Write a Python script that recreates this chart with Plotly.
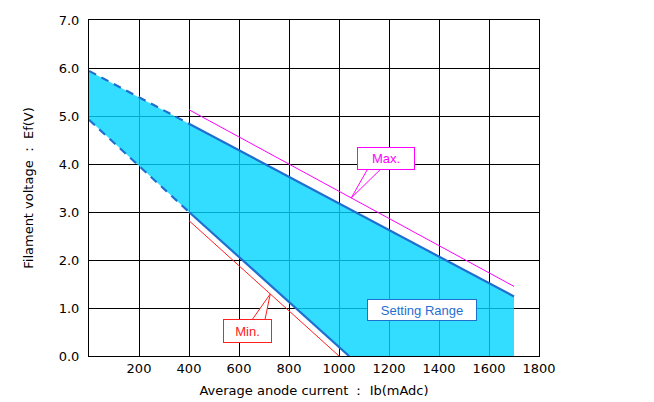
import plotly.graph_objects as go

# ---- data ----
range_x = [0, 400, 1700, 1700, 1040, 400, 0]
range_y = [5.94, 4.84, 1.24, 0.0, 0.0, 3.0, 4.92]

upper_dash_x = [0, 400]
upper_dash_y = [5.94, 4.84]
upper_solid_x = [400, 1700]
upper_solid_y = [4.84, 1.24]

lower_dash_x = [0, 400]
lower_dash_y = [4.92, 3.0]
lower_solid_x = [400, 1040]
lower_solid_y = [3.0, 0.0]

max_x = [400, 1700]
max_y = [5.13, 1.45]
min_x = [400, 1000]
min_y = [2.82, 0.0]

x_ticks = [200, 400, 600, 800, 1000, 1200, 1400, 1600, 1800]
y_ticks = [0, 1, 2, 3, 4, 5, 6, 7]

BLUE = "#1f6fd0"
MAG = "#ff00ff"
RED = "#ff2020"
FONT = "DejaVu Sans"
LFONT = "Liberation Sans"

fig = go.Figure()
fig.add_trace(go.Scatter(x=range_x, y=range_y, fill="toself", mode="lines",
                         line=dict(width=0), fillcolor="rgba(0,212,255,0.8)",
                         hoverinfo="skip"))
fig.add_trace(go.Scatter(x=upper_dash_x, y=upper_dash_y, mode="lines",
                         line=dict(color=BLUE, width=2.2, dash="8px,6px")))
fig.add_trace(go.Scatter(x=upper_solid_x, y=upper_solid_y, mode="lines",
                         line=dict(color=BLUE, width=2.2)))
fig.add_trace(go.Scatter(x=lower_dash_x, y=lower_dash_y, mode="lines",
                         line=dict(color=BLUE, width=2.2, dash="8px,6px")))
fig.add_trace(go.Scatter(x=lower_solid_x, y=lower_solid_y, mode="lines",
                         line=dict(color=BLUE, width=2.2)))
fig.add_trace(go.Scatter(x=max_x, y=max_y, mode="lines",
                         line=dict(color=MAG, width=1)))
fig.add_trace(go.Scatter(x=min_x, y=min_y, mode="lines",
                         line=dict(color=RED, width=1)))

def interp(xs, ys, x):
    return ys[0] + (ys[1] - ys[0]) * (x - xs[0]) / (xs[1] - xs[0])

# callout wedges
max_tip_x = 1049
max_tip_y = interp(max_x, max_y, max_tip_x)
min_tip_x = 725
min_tip_y = interp(min_x, min_y, min_tip_x)

shapes = [
    dict(type="path", xref="x", yref="y",
         path=f"M 1115 3.90 L {max_tip_x} {max_tip_y:.3f} L 1168 3.90 Z",
         fillcolor="white", line=dict(color=MAG, width=1), layer="above"),
    dict(type="path", xref="x", yref="y",
         path=f"M 653 0.76 L {min_tip_x} {min_tip_y:.3f} L 704 0.76 Z",
         fillcolor="white", line=dict(color=RED, width=1), layer="above"),
]

annotations = [
    dict(x=1188, y=4.11, xref="x", yref="y", text="Max.", showarrow=False,
         font=dict(family=LFONT, size=13, color=MAG), bgcolor="white",
         bordercolor=MAG, borderwidth=1, width=54, height=19, borderpad=1),
    dict(x=635, y=0.53, xref="x", yref="y", text="Min.", showarrow=False,
         font=dict(family=LFONT, size=13, color=RED), bgcolor="white",
         bordercolor=RED, borderwidth=1, width=45, height=20, borderpad=1),
    dict(x=1333, y=0.95, xref="x", yref="y", text="Setting Range", showarrow=False,
         font=dict(family=LFONT, size=13, color=BLUE), bgcolor="white",
         bordercolor=BLUE, borderwidth=1, width=106, height=18, borderpad=1),
]

fig.update_layout(
    width=646, height=394,
    margin=dict(l=81, r=115, t=12, b=46, autoexpand=False),
    paper_bgcolor="white", plot_bgcolor="white",
    showlegend=False,
    font=dict(family=FONT, size=13, color="black"),
    shapes=shapes, annotations=annotations,
    xaxis=dict(range=[0, 1800], tickvals=x_ticks, ticktext=[str(v) for v in x_ticks],
               showgrid=True, gridcolor="black", gridwidth=1,
               showline=True, linecolor="black", linewidth=1, mirror=True,
               zeroline=False, ticks="", tickfont=dict(size=13), automargin=False,
               ticklabelstandoff=0,
               title=dict(text="Average anode current ： Ib(mAdc)", font=dict(size=13),
                          standoff=11)),
    yaxis=dict(range=[0, 7], tickvals=y_ticks, ticktext=[f"{v:.1f}" for v in y_ticks],
               showgrid=True, gridcolor="black", gridwidth=1,
               showline=True, linecolor="black", linewidth=1, mirror=True,
               zeroline=False, ticks="", tickfont=dict(size=13), automargin=False,
               ticklabelstandoff=6,
               title=dict(text="Filament voltage ： Ef(V)", font=dict(size=13),
                          standoff=22)),
)

fig.write_html("out.html")
